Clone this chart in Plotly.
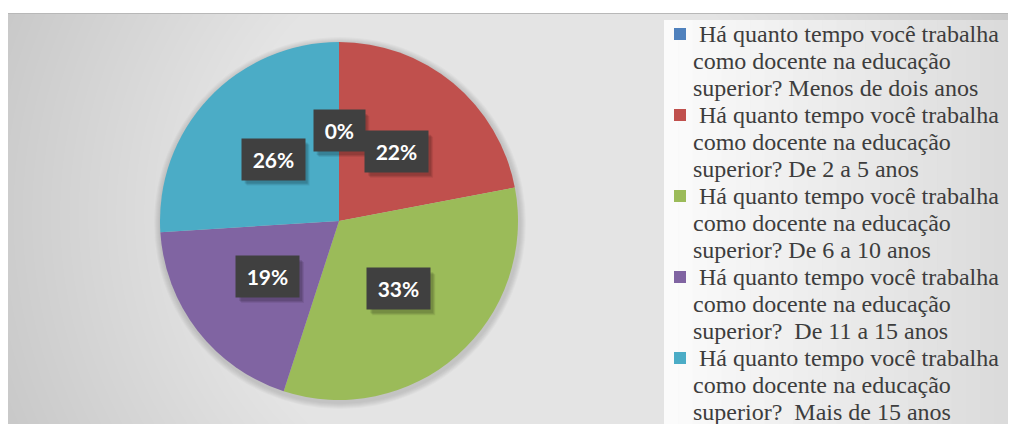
import math
import plotly.graph_objects as go

# ---- data ----
categories = [
    "Há quanto tempo você trabalha como docente na educação superior? Menos de dois anos",
    "Há quanto tempo você trabalha como docente na educação superior? De 2 a 5 anos",
    "Há quanto tempo você trabalha como docente na educação superior? De 6 a 10 anos",
    "Há quanto tempo você trabalha como docente na educação superior?  De 11 a 15 anos",
    "Há quanto tempo você trabalha como docente na educação superior?  Mais de 15 anos",
]
legend_lines = [
    ["\u00a0Há quanto tempo você trabalha", "como docente na educação", "superior? Menos de dois anos"],
    ["\u00a0Há quanto tempo você trabalha", "como docente na educação", "superior? De 2 a 5 anos"],
    ["\u00a0Há quanto tempo você trabalha", "como docente na educação", "superior? De 6 a 10 anos"],
    ["\u00a0Há quanto tempo você trabalha", "como docente na educação", "superior?\u00a0 De 11 a 15 anos"],
    ["\u00a0Há quanto tempo você trabalha", "como docente na educação", "superior?\u00a0 Mais de 15 anos"],
]
values = [0, 22, 33, 19, 26]
colors = ["#4F81BD", "#C0504D", "#9BBB59", "#8064A2", "#4BACC6"]

# ---- layout geometry (screen pixels; page body has an 8px margin) ----
OFF = 8
W, H = 1008, 416


def xp(sx):
    return (sx - OFF) / W


def yp(sy):
    return 1 - (sy - OFF) / H


CX, CY, R = 339, 221, 179

fig = go.Figure()
fig.add_trace(go.Pie(
    labels=categories,
    values=values,
    sort=False,
    direction="clockwise",
    rotation=0,
    marker=dict(colors=colors, line=dict(width=0)),
    textinfo="none",
    hoverinfo="label+percent",
    showlegend=False,
    domain=dict(x=[xp(CX - R), xp(CX + R)], y=[yp(CY + R), yp(CY - R)]),
))

# ---- background: gray chart area with radial light gradient ----
shapes = []
shapes.append(dict(type="rect", xref="paper", yref="paper", layer="below",
                   x0=xp(8), x1=1.05, y0=-0.05, y1=yp(13),
                   fillcolor="#c4c4c4", line=dict(width=0)))
GX, GY = 508, 215
N = 60
for i in range(N):
    r = 560 * (1 - i / N)
    shapes.append(dict(type="circle", xref="paper", yref="paper", layer="below",
                       x0=xp(GX - r), x1=xp(GX + r),
                       y0=yp(GY + r), y1=yp(GY - r),
                       fillcolor="rgba(255,255,255,0.036)", line=dict(width=0)))
# soft shadow halo around the pie
for i in range(6):
    rr = R + 7 - i
    shapes.append(dict(type="circle", xref="paper", yref="paper", layer="below",
                       x0=xp(CX - rr + 1), x1=xp(CX + rr + 1),
                       y0=yp(CY + rr + 2), y1=yp(CY - rr + 2),
                       fillcolor="rgba(0,0,0,0.025)", line=dict(width=0)))
# white mask above chart area
shapes.append(dict(type="rect", xref="paper", yref="paper", layer="below",
                   x0=-0.1, x1=1.1, y0=yp(13), y1=1.2, fillcolor="white", line=dict(width=0)))
# top border line
shapes.append(dict(type="line", xref="paper", yref="paper", layer="below",
                   x0=xp(8), x1=1.05, y0=yp(13.5), y1=yp(13.5),
                   line=dict(color="#b8b8b8", width=1)))
# legend box with horizontal gradient
LX0, LX1, LY0 = 664, 1009, 20
strips = 24
for i in range(strips):
    t = i / (strips - 1)
    c = int(round(251 - t * 32))
    shapes.append(dict(type="rect", xref="paper", yref="paper", layer="below",
                       x0=xp(LX0 + (LX1 - LX0) * i / strips),
                       x1=xp(LX0 + (LX1 - LX0) * (i + 1) / strips + 0.5),
                       y0=-0.05, y1=yp(LY0),
                       fillcolor=f"rgb({c},{c},{c})", line=dict(width=0)))

annotations = []

# ---- legend (manual, to match line spacing) ----
LEG_TOP, ITEM_H, LINE_H = 34, 81, 27
for i, (lines, col) in enumerate(zip(legend_lines, colors)):
    yc = LEG_TOP + ITEM_H * i
    shapes.append(dict(type="rect", xref="paper", yref="paper",
                       x0=xp(674), x1=xp(686), y0=yp(yc + 6), y1=yp(yc - 6),
                       fillcolor=col, line=dict(width=0)))
    for k, line in enumerate(lines):
        annotations.append(dict(
            xref="paper", yref="paper", x=xp(691), y=yp(yc + LINE_H * k),
            xanchor="left", yanchor="middle", showarrow=False, text=line,
            font=dict(family="Liberation Serif", size=24, color="#3d3d3d")))

# ---- data labels (boxes), positioned from the data ----
total = sum(values)
PAD, TXT_H = 9, 23
cum = 0
for v in values:
    mid = (cum + v / 2) / total * 2 * math.pi
    cum += v
    rl = 0.505 * R
    sx = CX + rl * math.sin(mid)
    sy = CY - rl * math.cos(mid)
    txt = f"{round(v / total * 100)}%"
    tw = 12.2 * (len(txt) - 1) + 18.5 + 2
    bw, bh = tw + 2 * PAD, TXT_H + 2 * PAD
    # shadow (drawn above the pie, beneath the label box)
    for dx, dy, a in [(5, 6, 0.07), (4, 5, 0.09), (3, 4, 0.10)]:
        shapes.append(dict(type="rect", xref="paper", yref="paper", layer="above",
                           x0=xp(sx - bw / 2 + dx), x1=xp(sx + bw / 2 + dx),
                           y0=yp(sy + bh / 2 + dy), y1=yp(sy - bh / 2 + dy),
                           fillcolor=f"rgba(0,0,0,{a})", line=dict(width=0)))
    annotations.append(dict(
        xref="paper", yref="paper", x=xp(sx), y=yp(sy),
        xanchor="center", yanchor="middle", showarrow=False,
        width=tw, height=TXT_H, borderpad=PAD, text=txt,
        bgcolor="#404040",
        font=dict(family="Lato", size=21, color="white", weight="bold")))

fig.update_layout(
    width=W, height=H,
    margin=dict(l=0, r=0, t=0, b=0),
    paper_bgcolor="white",
    plot_bgcolor="white",
    shapes=shapes,
    annotations=annotations,
    showlegend=False,
)

fig.write_html("out.html")
